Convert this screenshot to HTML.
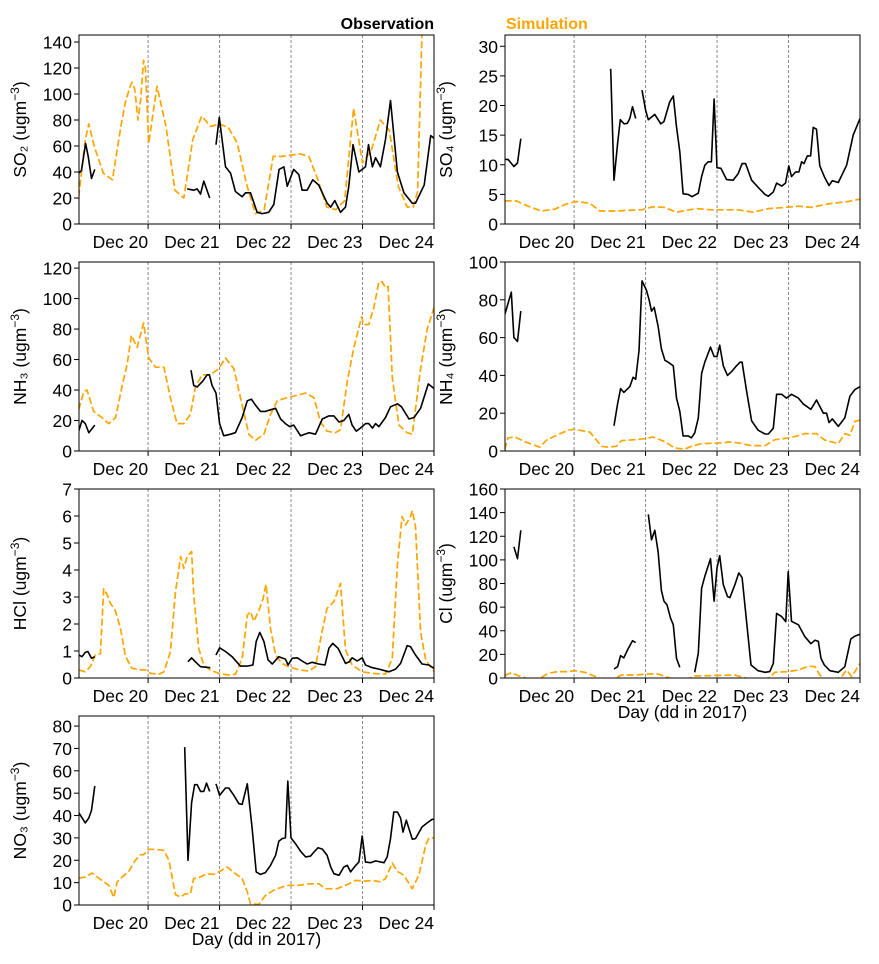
<!DOCTYPE html>
<html><head><meta charset="utf-8">
<style>
html,body{margin:0;padding:0;background:#fff;}
svg{display:block;font-family:"Liberation Sans","DejaVu Sans",sans-serif;}
</style></head>
<body>
<svg id="fig" width="879" height="964" viewBox="0 0 879 964" xmlns="http://www.w3.org/2000/svg">
<text x="434" y="29" text-anchor="end" font-size="16" font-weight="bold" fill="#000">Observation</text>
<text x="506" y="29" font-size="16" font-weight="bold" fill="#ffa500">Simulation</text>
</svg>
<script>
// ---- shared x-axis data (hours from Dec 20 00:00) ----
const xTickHours = [0, 24, 48, 72, 96];
const xTickLabels = ["Dec 20", "Dec 21", "Dec 22", "Dec 23", "Dec 24"];
const xDomain = [-23.2, 96];

// ---- SO2 ----
const so2SimT = [-23.3,-21.1,-19.9,-18,-15,-12,-9,-7.6,-6,-5.4,-4.5,-3.4,-2.5,-1.5,-0.9,0.2,3,6,9,12,15,18,21,24,27,30,33,36,39,42,45,48,51,54,57,60,63,66,69,72,75,78,81,84,87,89,90.5,92,96];
const so2SimV = [21,65,77,59,39,34,77,94,106,109,104,80,95,126,120,62,106,75,26,20,65,83,75,77,74,62,31,8,11,52,52,53,54,52,34,13,11,18,89,47,57,80,72,29,13,13,25,150,150];
const so2ObsT = [-23.3,-22.4,-21,-20.1,-19,-17.9,null,13.1,15.3,16.5,17.6,18.7,20.7,null,22.8,23.9,26,27.7,29.3,31.6,32.7,34.4,36.6,38.3,40.5,42.2,44,45.6,46.7,48.9,50.6,51.7,53.4,55.3,57.3,60.1,61.3,62.7,64.6,66.3,67.4,68.8,70.8,73,74,75.3,76.4,78,79.7,81.4,83.7,85.9,88.7,89.8,92.7,94.9,96];
const so2ObsV = [39,41,62,52,35,42,null,27,26,27,23,33,20,null,61,82,44,39,25,21,24,24,9,8,9,15,42,44,29,42,38,26,26,34,30,16,13,18,9,13,29,61,40,44,61,44,51,44,65,95,40,24,16,16,30,68,66];

// ---- SO4 ----
const so4SimT = [-23.3,-19.4,-15.4,-11,-6.5,-2.6,0.8,5.3,8.6,13.7,22.6,26.5,30.4,34.4,41.1,46.1,55.1,60.1,65.2,70.8,75.3,79.7,85.3,92,96];
const so4SimV = [3.9,3.9,3.0,2.2,2.5,3.4,3.8,3.5,2.2,2.2,2.4,2.9,2.8,2.0,2.6,2.4,2.4,2.0,2.6,2.8,3.0,2.8,3.4,3.8,4.2];
const so4ObsT = [-23.3,-22.2,-20.2,-19,-17.9,null,12.3,13.4,14.6,15.5,16.8,17.9,18.7,19.6,20.7,null,22.8,24,24.9,27.1,29.1,30.2,32.1,33.3,34.4,35.5,36.6,38.3,39.6,41.7,42.8,43.9,45,46.1,47,48,49.3,51.2,53.4,55.1,56.4,57.6,59.6,61.8,64.1,65.2,66.9,68,69.7,71,72.1,73,74.4,75.5,76.4,77.2,78.3,79.4,80.3,81.4,82.5,84,85.6,86.7,88.7,91.5,93.7,96];
const so4ObsV = [10.9,10.9,9.7,10.3,14.4,null,26.2,7.4,13.6,17.6,16.9,17,17.8,19.8,17.8,null,22.6,19.2,17.6,18.5,16.9,17.3,20.6,21.6,16.4,12.2,5.1,5,4.6,5.2,8,9.9,10.5,10.5,21.1,9.5,9.4,7.5,7.4,8.5,10.2,10.2,7.4,6.2,5,4.7,5.4,6.9,6.4,6.9,9.8,8,8.8,8.8,10.5,10.2,11.5,11.5,16.3,16,9.8,8,6.5,7.3,7,9.9,15,17.8];

// ---- NH3 ----
const nh3SimT = [-23.3,-21.6,-20.5,-18.3,-15.5,-13.2,-10.9,-8.7,-7,-5.6,-3.7,-1.5,0.2,2.5,5.3,7.5,9.7,12,14.2,15.9,18.1,20.9,23.7,26,28.8,31.6,33.8,36.1,38.9,41.1,43.4,46.7,48.9,52.9,55.7,57.9,60.1,62.9,64.6,66.9,69.1,71.7,72.4,74.1,75.8,77.5,78.6,79.7,80.6,82,84.2,87,88.7,91.5,93.7,96];
const nh3SimV = [27,39,40,26,22,18,22,43,57,76,68,84,61,55,55,35,18,18,24,42,50,50,54,61,54,30,11,7,11,24,33,35,36,38,35,19,13,12,14,46,68,88,83,83,94,111,111,107,108,48,17,12,11,54,80,94];
const nh3ObsT = [-23.3,-22.2,-21.1,-19.9,-17.9,null,14.4,15.3,16.5,18.4,19.8,20.6,21.5,22.8,24,25.4,27.7,29.3,31.6,33.3,34.7,36.1,37.7,39.4,41.1,42.8,44.5,46.1,47.5,48.9,51.2,54,56.2,58.5,60.7,62.4,64.1,65.7,67.4,68.5,69.9,71.3,73,74.1,75.3,76.4,77.5,79.7,81.4,83.7,85.1,87.6,89.3,91.5,94.1,96];
const nh3ObsV = [13,20,18,12,17,null,53,43,42,46,50,50,43,38,18,10,11,12,22,33,34,30,26,26,27,28,21,18,16,17,10,12,11,21,23,23,19,20,24,17,13,15,18,18,15,18,16,22,29,31,29,21,22,28,44,41];

// ---- NH4 ----
const nh4SimT = [-23.3,-22.2,-19.9,-16.6,-11.5,-9.3,-5.4,-2,0,5.3,9.2,11.4,14.2,15.9,20.4,23.7,26.5,30.4,33.8,37.2,39.4,42.8,48.4,52.9,56.2,59.6,64.1,67.4,71.9,75.3,77.5,81.4,84.2,88.7,90.9,92.6,94.3,96];
const nh4SimV = [0.7,7,7.4,5,2,5.7,8.7,11,11.5,10,2.5,2,2.5,5.5,6,6.5,7.4,5,1.6,1,2.5,3.9,4.2,4.8,3.9,2.8,2.8,6,6.9,8.1,9.2,9.2,5.7,3.9,9.2,8.3,15.7,16.3];
const nh4ObsT = [-23.3,-21.1,-20.2,-19,-17.9,null,13.4,14.6,15.6,16.7,18.7,19.8,20.7,21.8,22.8,24.3,25.2,26,26.9,28.2,29.3,30.5,31.6,33.3,34.4,35.5,36.6,38.3,39.4,40.5,41.7,42.8,43.9,45.8,47,48,48.9,50.1,51.5,52.9,54.5,55.7,56.4,57.9,59.6,61.8,64.1,65.2,66.9,68,69.7,71.3,73,75.3,76.9,79.5,81.4,83.7,84.8,85.6,86.7,88.7,90.9,92.6,94.3,96];
const nh4ObsV = [72,84,60,58,74,null,13.4,25,33,31,34,39,38,53,90,85,80,74,76,66,54,48,47,45,28,21,8,8,7,9.5,17.5,41,47,55,50,50,56,45,40,42,45,47,47,32,16,11,9,9,12,30,30,28,30,28,25,22,27,20,20,15,17,13,17.5,29,32.5,34];

// ---- HCl ----
const hclSimT = [-23.3,-21.1,-19.4,-17.7,-16,-14.9,-13.8,-12.7,-11,-9.3,-7.6,-5.4,-2.6,-0.9,0.8,3.6,5.3,7.5,9.2,10.9,12,13.1,14.6,15.3,17,18.7,20.9,23.7,27.1,29.3,31.6,33.3,34.4,35.5,37.2,38.5,39.6,41.1,42.8,45,47.2,50.6,54,56.2,58.2,60.1,62.4,64.6,66.3,68.5,71.9,75.3,79.7,82,83.7,85.3,86.5,88.1,88.7,89.8,91.5,93.2,96];
const hclSimV = [0.3,0.23,0.42,0.85,0.9,3.3,3.1,2.77,2.5,1.85,0.8,0.36,0.3,0.3,0.17,0.14,0.23,0.97,3.2,4.5,4.06,4.5,4.68,3.1,1.1,0.48,0.3,0.17,0.11,0.14,0.73,2.33,2.46,2.1,2.5,2.9,3.47,1.84,0.85,0.54,0.42,0.3,0.26,0.42,1.6,2.58,2.83,3.5,1.04,0.48,0.23,0.17,0.14,0.73,4.2,5.98,5.67,5.98,6.2,5.6,1.7,0.67,0.23];
const hclObsT = [-23.3,-22.2,-21.1,-20.2,-19,-17.9,null,13.4,14.6,15.9,17.6,20.9,null,22.8,24,26,28.2,31,33.3,35.2,36.3,37.5,38.9,40.3,41.7,43.9,46.1,47,48.4,50.1,51.7,53.4,55.1,57.3,59.4,60.7,62,63.8,66.3,67.6,68.5,70.2,71.9,73,75.3,77.5,80.9,83.1,84.8,87,88.1,89.8,92,94.3,96];
const hclObsV = [0.85,0.79,0.95,0.98,0.73,0.79,null,0.6,0.75,0.6,0.42,0.38,null,0.85,1.12,0.98,0.79,0.44,0.44,0.48,1.35,1.69,1.35,0.67,0.52,0.79,0.7,0.48,0.73,0.75,0.63,0.52,0.58,0.52,0.48,1.1,1.28,1.1,0.54,0.6,0.75,0.63,0.75,0.48,0.38,0.33,0.23,0.33,0.54,1.2,1.16,0.85,0.52,0.48,0.36];

// ---- Cl ----
const clSimT = [-23.3,-21.1,-18.8,-16.6,-14,-11,-8.7,-5.4,-2,0.2,3.6,8.1,11,14.2,15.9,20.4,24.9,28.2,31.6,36,40.5,46.1,53.9,57.1,61,65.7,67.4,71.9,75.3,78.6,80.9,82.5,83.7,86,89.8,91.5,93.2,96];
const clSimV = [2,4.5,2,0.3,-3,0.3,4,5.4,5.4,6.2,4.8,0.3,-3,0.3,2.5,2.5,3.4,3.4,0.3,-3,1.7,2,2.5,0.3,-3,0.3,4.8,5.4,6.8,10,9.6,2.5,0.3,-3,1.1,6.8,1.1,12.4];
const clObsT = [-20.2,-19,-17.9,null,13.4,14.6,15.6,16.7,17.8,19.6,20.7,null,24.9,26,27.1,28.2,29.3,30.2,31.2,32.4,33.3,34.4,35.5,null,40.5,41.7,42.8,43.9,45.8,47,48,48.9,50.1,51.5,52.3,54,55.3,56.4,57.6,59.4,61.8,64.1,65.7,66.9,68,69.7,71.1,71.9,73,75.3,77.5,79.5,80.9,82,82.9,84,85.9,88.7,90.9,92.9,94.3,96];
const clObsV = [111,101,125,null,7.6,9.6,19,17,23,31.6,30,null,138.5,117,125,107,74,65,62,50.5,45,16.6,9,null,4.8,21,76,86,101,65,93,103.5,79,69,68,79,89,85,56,11,6.2,4.8,5.4,12.4,54.7,52,47.7,90,48,45,35,29,32,31,16.6,11,6.2,4.8,9.6,33,35.5,37];

// ---- NO3 ----
const no3SimT = [-23.3,-21.1,-18.8,-17.1,-15.5,-13.2,-11.5,-10.4,-8.7,-6.5,-4.3,-2.6,-1.5,0.2,2.5,5.3,7,9.2,10.9,12.5,14.2,15.3,17,19.8,22,24.3,26.5,29.3,31.6,33.3,34.4,37.2,39.4,42.2,45,47.2,50.6,54,57.3,59.6,63.5,66.9,69.7,73,75.3,78.1,79.7,82,83.7,85.9,88.7,90.9,93.2,94.3,96];
const no3SimV = [12,12.5,14.3,12.5,11,8.8,3.3,10.3,12.5,15,20,22.5,22.5,24.9,24.9,24.4,20,4.6,3.6,5,5,11.8,12.2,14,13.7,15.2,17,14,11.8,5.8,0.6,0.3,4.3,6.6,8,8.8,8.8,9.5,9.5,7.3,7.3,9.1,11,10.7,11,10.3,11.8,18.8,15,13.3,7.3,13.3,26.7,30,30];
const no3ObsT = [-23.3,-21.1,-19.9,-19,-17.9,null,12.3,13.4,14.6,15.6,16.5,17.6,18.7,19.6,20.7,null,22.8,24,26,27.1,28.8,30.5,31.6,33.3,34.9,36.3,37.7,39.4,41.1,42.8,43.9,45,46.1,46.9,48,49.5,51.2,52.9,54.5,55.7,57.1,58.5,60.1,61.3,62.4,64.1,65.7,66.9,68,69.7,70.8,71.9,73,74.7,76.4,79.2,80.3,81.4,82.5,83.7,84.8,85.6,86.7,88.7,89.8,92,93.7,95.4,96];
const no3ObsV = [41.3,36.7,38.9,42.3,53.2,null,70.6,20,45.8,53.8,53.8,50.8,50.8,54.5,50.8,null,54.2,49,52.3,52.3,49,45.3,45,54.2,34.9,14.8,13.7,14.5,17.7,22.2,28.5,29.7,30,55.4,30,27.4,24,21.5,21.8,23.7,25.6,25,22.2,17,14,13.3,17,17.7,14.8,17.7,19.2,30.8,19.2,18.9,19.7,18.9,21.5,29.7,41.6,41.6,38.9,32.6,37.9,29.4,29.7,34.9,36.7,38.3,38.3];

// ---- y tick values per panel ----
const so2Ticks = [0,20,40,60,80,100,120,140];
const so4Ticks = [0,5,10,15,20,25,30];
const nh3Ticks = [0,20,40,60,80,100,120];
const nh4Ticks = [0,20,40,60,80,100];
const hclTicks = [0,1,2,3,4,5,6,7];
const clTicks = [0,20,40,60,80,100,120,140,160];
const no3Ticks = [0,10,20,30,40,50,60,70,80];

const NS = "http://www.w3.org/2000/svg";
const svg = document.getElementById('fig');
function mk(tag, attrs, parent) {
  const e = document.createElementNS(NS, tag);
  for (const k in attrs) e.setAttribute(k, attrs[k]);
  (parent || svg).appendChild(e);
  return e;
}

const panels = [
  {id:'so2', x:79, y:35, ymax:145.4, ticks:so2Ticks, label:['SO₂  (ugm','−3',')'], sim:[so2SimT,so2SimV], obs:[so2ObsT,so2ObsV], xtitle:false},
  {id:'so4', x:505, y:35, ymax:31.9, ticks:so4Ticks, label:['SO₄  (ugm','−3',')'], sim:[so4SimT,so4SimV], obs:[so4ObsT,so4ObsV], xtitle:false},
  {id:'nh3', x:79, y:262, ymax:124, ticks:nh3Ticks, label:['NH₃  (ugm','−3',')'], sim:[nh3SimT,nh3SimV], obs:[nh3ObsT,nh3ObsV], xtitle:false},
  {id:'nh4', x:505, y:262, ymax:100, ticks:nh4Ticks, label:['NH₄  (ugm','−3',')'], sim:[nh4SimT,nh4SimV], obs:[nh4ObsT,nh4ObsV], xtitle:false},
  {id:'hcl', x:79, y:489, ymax:7, ticks:hclTicks, label:['HCl (ugm','−3',')'], sim:[hclSimT,hclSimV], obs:[hclObsT,hclObsV], xtitle:false},
  {id:'cl', x:505, y:489, ymax:160, ticks:clTicks, label:['Cl (ugm','−3',')'], sim:[clSimT,clSimV], obs:[clObsT,clObsV], xtitle:true},
  {id:'no3', x:79, y:716, ymax:84.5, ticks:no3Ticks, label:['NO₃  (ugm','−3',')'], sim:[no3SimT,no3SimV], obs:[no3ObsT,no3ObsV], xtitle:true}
];
const W = 355, H = 189;
const FS = 17.5;

function pathFrom(T, V, sx, sy) {
  let d = '', pen = false;
  const n = Math.min(T.length, V.length);
  for (let i = 0; i < n; i++) {
    if (T[i] === null || V[i] === null) { pen = false; continue; }
    d += (pen ? 'L' : 'M') + sx(T[i]).toFixed(1) + ' ' + sy(V[i]).toFixed(1);
    pen = true;
  }
  return d;
}

panels.forEach(p => {
  const g = mk('g', {});
  
  
  const sx = h => p.x + (h - xDomain[0]) / (xDomain[1] - xDomain[0]) * W;
  const sy = v => p.y + H - v / p.ymax * H;
  const clipId = 'clip-' + p.id;
  const cp = mk('clipPath', {id: clipId}, g);
  mk('rect', {x: p.x, y: p.y, width: W, height: H}, cp);

  xTickHours.forEach((h, i) => {
    const X = sx(h);
    if (h < xDomain[1]) {
      const dl = mk('line', {x1: X, x2: X, y1: p.y, y2: p.y + H, stroke: '#888', 'stroke-width': 1, 'stroke-dasharray': '3,2'}, g);
      
      
    }
    mk('line', {x1: X, x2: X, y1: p.y + H, y2: p.y + H + 5, stroke: '#000', 'stroke-width': 1}, g);
    const t = mk('text', {x: X, y: p.y + H + 24, 'text-anchor': 'end', 'font-size': FS, fill: '#000'}, g);
    
    
    t.textContent = xTickLabels[i];
  });
  p.ticks.forEach(v => {
    const Y = sy(v);
    mk('line', {x1: p.x - 5, x2: p.x, y1: Y, y2: Y, stroke: '#000', 'stroke-width': 1}, g);
    const t = mk('text', {x: p.x - 7, y: Y + 6.5, 'text-anchor': 'end', 'font-size': FS, fill: '#000'}, g);
    
    
    t.textContent = String(v);
  });
  const lx = p.x - 53, ly = p.y + H / 2;
  const yl = mk('text', {x: lx, y: ly, 'text-anchor': 'middle', 'font-size': FS, fill: '#000', transform: `rotate(-90 ${lx} ${ly})`}, g);
  
  
  const s1 = mk('tspan', {}, yl); s1.textContent = p.label[0];
  const s2 = mk('tspan', {dy: -7, 'font-size': 12}, yl); s2.textContent = p.label[1];
  const s3 = mk('tspan', {dy: 7}, yl); s3.textContent = p.label[2];

  const sim = mk('path', {d: pathFrom(p.sim[0], p.sim[1], sx, sy), fill: 'none', stroke: '#ffa500', 'stroke-width': 1.7, 'stroke-dasharray': '7,3', 'clip-path': `url(#${clipId})`, 'stroke-linejoin': 'round'}, g);
  
  
  const obs = mk('path', {d: pathFrom(p.obs[0], p.obs[1], sx, sy), fill: 'none', stroke: '#000', 'stroke-width': 1.6, 'clip-path': `url(#${clipId})`, 'stroke-linejoin': 'round'}, g);
  
  

  const fr = mk('rect', {x: p.x, y: p.y, width: W, height: H, fill: 'none', stroke: '#000', 'stroke-width': 1}, g);
  
  

  if (p.xtitle) {
    const xt = mk('text', {x: p.x + W / 2, y: p.y + H + 40, 'text-anchor': 'middle', 'font-size': FS, fill: '#000'}, g);
    
    
    xt.textContent = 'Day (dd in 2017)';
  }
});
</script>
</body></html>
